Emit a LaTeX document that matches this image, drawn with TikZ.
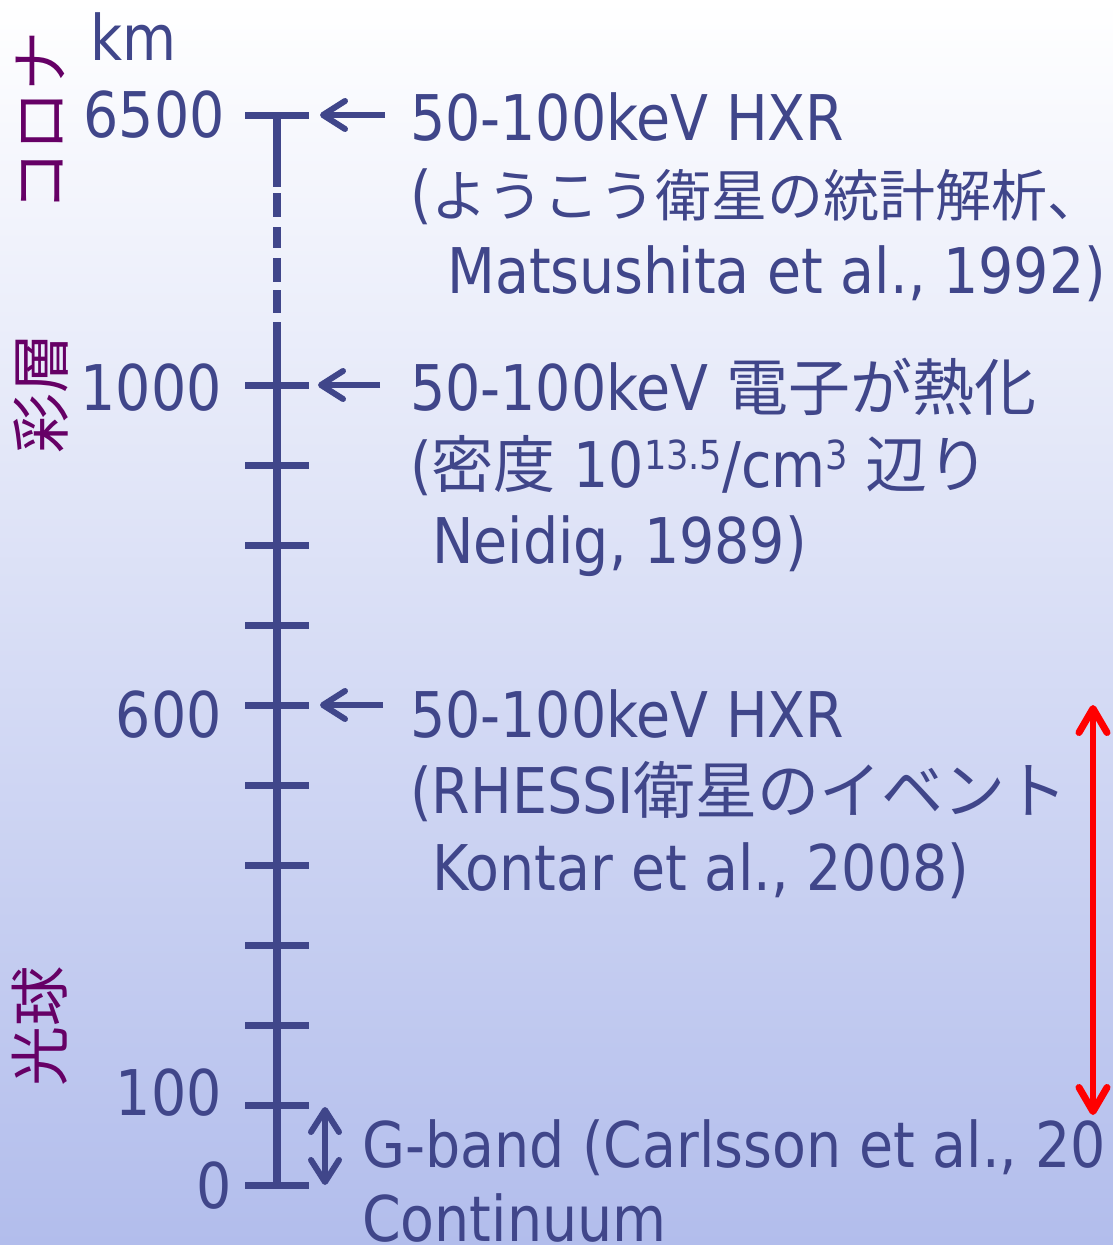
\documentclass[tikz,border=0pt]{standalone}
\usepackage{fontspec}
\setmainfont{DejaVu Sans}[FakeStretch=0.88]
\newfontfamily\jpfont{Noto Sans CJK JP}
\usetikzlibrary{arrows.meta}
\definecolor{ink}{RGB}{64,70,138}
\definecolor{plum}{RGB}{102,0,102}
\definecolor{bgbot}{RGB}{178,189,236}
\newcommand\jatext[2][62]{{\jpfont\fontsize{#1}{#1}\selectfont #2}}
\newcommand\supnum[1]{\raisebox{18pt}{\fontsize{40}{40}\selectfont #1}}
\begin{document}
\begin{tikzpicture}[x=1pt,y=-1pt,
  txt/.style={anchor=base west,inner sep=0pt,text=ink,font=\fontsize{63}{63}\selectfont},
  num/.style={anchor=base east,inner sep=0pt,text=ink,font=\fontsize{63}{63}\selectfont},
  side/.style={rotate=90,inner sep=0pt,text=plum,font=\jpfont\fontsize{60}{60}\selectfont},
  axisline/.style={draw=ink,line width=8pt},
  tickline/.style={draw=ink,line width=7pt},
  bluetip/.tip={Straight Barb[length=22pt,width=28pt,line width=6pt,round]},
  redtip/.tip={Straight Barb[length=24pt,width=28pt,line width=7pt,round]},
  ptr/.style={draw=ink,line width=6pt,-bluetip},
  dptr/.style={draw=ink,line width=6pt,bluetip-bluetip},
  redptr/.style={draw=red,line width=6.5pt,redtip-redtip}
]
\useasboundingbox (0,0) rectangle (1113,1245);
\shade[top color=white,bottom color=bgbot] (0,0) rectangle (1113,1245);

% axis
\coordinate (atop) at (277,115);
\coordinate (dashstart) at (277,187);
\coordinate (dashend) at (277,322);
\coordinate (abot) at (277,1188);
\draw[axisline] (atop) -- (dashstart);
\foreach \a/\b in {193/217,227/248,258/282,290/313}
  \draw[axisline] (277,\a) -- (277,\b);
\draw[axisline] (dashend) -- (abot);
\foreach \y in {115,385,465,545,625,705,785,865,945,1025,1105,1185}
  \draw[tickline] (245,\y) -- (309,\y);

% numbers
\node[txt] (km) at (90,60) {km};
\node[num] (n6500) at (225,137) {6500};
\node[num] (n1000) at (222,410) {1000};
\node[num] (n600) at (222,737) {600};
\node[num] (n100) at (222,1115) {100};
\node[num] (n0) at (232,1208) {0};

% side labels
\node[side] (corona) at (40,121) {コロナ};
\node[side] (chromo) at (41,393) {彩層};
\node[side] (photo) at (40,1026) {光球};

% pointers
\coordinate (p1s) at (385,115); \coordinate (p1e) at (320,115);
\coordinate (p2s) at (380,385); \coordinate (p2e) at (318,385);
\coordinate (p3s) at (383,705); \coordinate (p3e) at (320,705);
\draw[ptr] (p1s) -- (p1e);
\draw[ptr] (p2s) -- (p2e);
\draw[ptr] (p3s) -- (p3e);
\coordinate (gtop) at (325,1107);
\coordinate (gbot) at (325,1185);
\draw[dptr] (gtop) -- (gbot);
\coordinate (rtop) at (1093,705);
\coordinate (rbot) at (1093,1115);
\draw[redptr] (rtop) -- (rbot);

% text blocks
\node[txt] (b1a) at (410,140) {50-100keV HXR};
\node[txt] (b1b) at (410,216) {(\jatext[56]{ようこう衛星の統計解析、}};
\node[txt] (b1c) at (447,293) {Matsushita et al., 1992)};

\node[txt] (b2a) at (410,410) {50-100keV \jatext{電子が熱化}};
\node[txt] (b2b) at (410,487) {(\jatext{密度} 10\supnum{13.5}/cm\supnum{3} \jatext{辺り}};
\node[txt] (b2c) at (432,563) {Neidig, 1989)};

\node[txt] (b3a) at (410,737) {50-100keV HXR};
\node[txt] (b3b) at (410,813) {(RHESSI\jatext{衛星のイベント}};
\node[txt] (b3c) at (432,890) {Kontar et al., 2008)};

\node[txt] (b4a) at (362,1167) {G-band (Carlsson et al., 20};
\node[txt] (b4b) at (362,1241) {Continuum};
\end{tikzpicture}
\end{document}
